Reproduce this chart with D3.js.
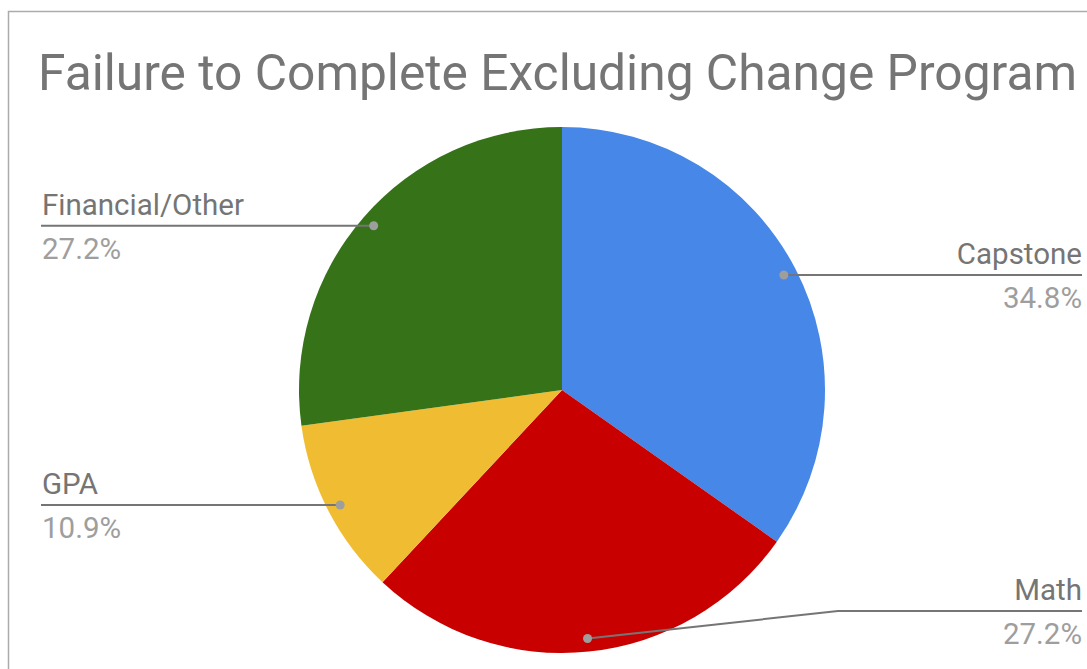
<!DOCTYPE html>
<html><head><meta charset="utf-8">
<script src="https://cdn.jsdelivr.net/npm/d3@7"></script>
<style>body{margin:0;background:#fff;} svg{display:block;font-family:Roboto, sans-serif;}</style>
</head><body>
<svg id="c" width="1087" height="669"></svg>
<script>
const categories = ["Capstone", "Math", "GPA", "Financial/Other"];
const counts = [32, 25, 10, 25];
const colors = ["#4787e7", "#c80000", "#f0bd32", "#357218"];
const title = "Failure to Complete Excluding Change Program";

const W = 1087, H = 669;
const svg = d3.select("#c");
svg.append("rect").attr("x", 8.5).attr("y", 11.5).attr("width", W + 20).attr("height", H + 20)
  .attr("fill", "#fff").attr("stroke", "#ababab").attr("stroke-width", 1.5);

svg.append("text").attr("x", 38).attr("y", 90).attr("font-size", 49.7).attr("fill", "#757575")
  .text(title);

const cx = 562, cy = 390, R = 263;
const g = svg.append("g").attr("transform", `translate(${cx},${cy})`);
const total = d3.sum(counts);
const pie = d3.pie().sort(null).value(d => d)(counts);
const arc = d3.arc().innerRadius(0).outerRadius(R);
g.selectAll("path").data(pie).join("path").attr("d", arc).attr("fill", (d, i) => colors[i]);

const dotArc = d3.arc().innerRadius(0.95 * R).outerRadius(0.95 * R);
const maxLineY = 611 - cy;
const leftX = 41 - cx, rightX = 1082 - cx, bendX = 838 - cx;
pie.forEach((d, i) => {
  const [px, py] = dotArc.centroid(d);
  const mid = (d.startAngle + d.endAngle) / 2;
  const right = mid < Math.PI;
  const ly = Math.min(py, maxLineY);
  const endX = right ? rightX : leftX;
  let pts;
  if (ly !== py) pts = [[px, py], [bendX, ly], [endX, ly]];
  else pts = [[px, py], [endX, ly]];
  g.append("path").attr("d", d3.line()(pts)).attr("fill", "none")
    .attr("stroke", "#757575").attr("stroke-width", 2);
  g.append("circle").attr("cx", px).attr("cy", py).attr("r", 4.5).attr("fill", "#9e9e9e");
  const tx = right ? rightX : leftX + 1;
  const anchor = right ? "end" : "start";
  g.append("text").attr("x", tx).attr("y", ly - 11).attr("text-anchor", anchor)
    .attr("font-size", 29.5).attr("fill", "#757575").text(categories[i]);
  g.append("text").attr("x", tx).attr("y", ly + 33).attr("text-anchor", anchor)
    .attr("font-size", 29.5).attr("fill", "#9e9e9e")
    .text(d3.format(".1%")(d.value / total));
});
</script>
</body></html>
